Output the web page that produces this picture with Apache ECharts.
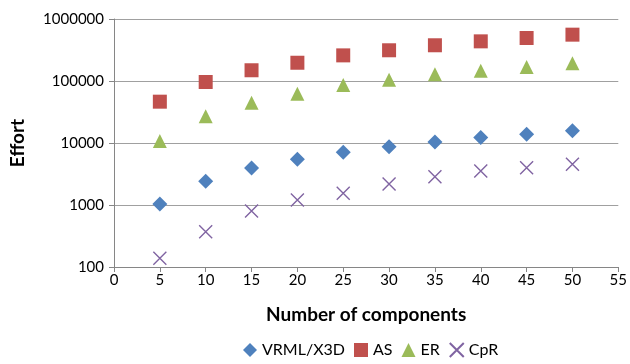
<!DOCTYPE html>
<html><head><meta charset="utf-8">
<script src="https://cdn.jsdelivr.net/npm/echarts@6/dist/echarts.min.js"></script>
<style>html,body{margin:0;padding:0;background:#fff}#c{width:630px;height:364px}</style>
</head><body><div id="c"></div>
<script>
var components = [5, 10, 15, 20, 25, 30, 35, 40, 45, 50];
var vrml = [1040, 2410, 3950, 5460, 7080, 8710, 10400, 12300, 13800, 15800];
var as = [46400, 96400, 149000, 197000, 259000, 313000, 377000, 436000, 494000, 559000];
var er = [10800, 27000, 44700, 62400, 86000, 105000, 128000, 147000, 168000, 193000];
var cpr = [138, 370, 800, 1200, 1550, 2180, 2860, 3550, 4000, 4550];
var yTicks = [100, 1000, 10000, 100000, 1000000];

function pairs(v){ return components.map(function(x,i){ return [x, v[i]]; }); }
var font = 'Lato, "Open Sans", sans-serif';
var xPath = 'path://M0,0L10,10M10,0L0,10';
var chart = echarts.init(document.getElementById('c'));
chart.setOption({
  animation: false,
  textStyle: { fontFamily: font },
  grid: { left: 111, right: 9, top: 19, bottom: 97, containLabel: false },
  legend: {
    bottom: 1, left: 238, itemWidth: 14, itemHeight: 14, itemGap: 9,
    textStyle: { fontSize: 16, color: '#000', fontFamily: font },
    data: ['VRML/X3D', 'AS', 'ER', 'CpR']
  },
  xAxis: {
    type: 'value', min: 0, max: 55, interval: 5,
    name: 'Number of components', nameLocation: 'middle', nameGap: 38,
    nameTextStyle: { fontSize: 19, fontWeight: 'bold', color: '#000', fontFamily: font },
    axisLine: { show: true, lineStyle: { color: '#868686' } },
    axisTick: { show: true, length: 5, lineStyle: { color: '#868686' } },
    axisLabel: { fontSize: 15, color: '#000', margin: 6 },
    splitLine: { show: false }
  },
  yAxis: {
    type: 'log', logBase: 10, min: yTicks[0], max: yTicks[yTicks.length-1],
    name: 'Effort', nameLocation: 'middle', nameGap: 87,
    nameTextStyle: { fontSize: 19, fontWeight: 'bold', color: '#000', fontFamily: font },
    axisLine: { show: true, lineStyle: { color: '#868686' } },
    axisTick: { show: true, length: 5, lineStyle: { color: '#868686' } },
    axisLabel: { fontSize: 15, color: '#000', margin: 10, formatter: function(v){ return String(Math.round(v)); } },
    splitLine: { show: true, lineStyle: { color: '#a0a0a0', width: 1 } }
  },
  series: [
    { name: 'VRML/X3D', type: 'scatter', symbol: 'diamond', symbolSize: 15, data: pairs(vrml), itemStyle: { color: '#4F81BD', opacity: 1 } },
    { name: 'AS', type: 'scatter', symbol: 'rect', symbolSize: 14, data: pairs(as), itemStyle: { color: '#C0504D', opacity: 1 } },
    { name: 'ER', type: 'scatter', symbol: 'triangle', symbolSize: 14, data: pairs(er), itemStyle: { color: '#9BBB59', opacity: 1 } },
    { name: 'CpR', type: 'scatter', symbol: xPath, symbolSize: 13, data: pairs(cpr), itemStyle: { color: 'rgba(0,0,0,0)', borderColor: '#8064A2', borderWidth: 1.4, opacity: 1 } }
  ]
});
</script></body></html>
